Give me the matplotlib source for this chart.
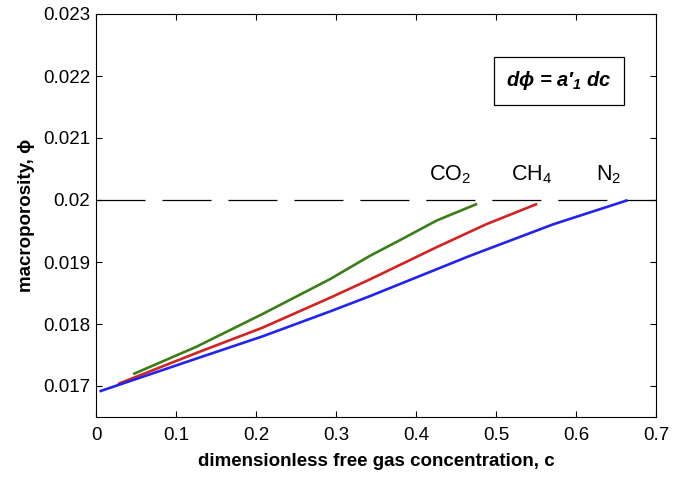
import matplotlib
matplotlib.use("Agg")
import matplotlib.pyplot as plt

plt.rcParams["font.family"] = ["Liberation Sans", "DejaVu Sans"]
plt.rcParams["lines.scale_dashes"] = False

# values
c_co2 = [0.048, 0.125, 0.208, 0.292, 0.3425, 0.384, 0.426, 0.475]
phi_co2 = [0.01720, 0.01763, 0.01816, 0.01872, 0.01910, 0.01938, 0.01967, 0.01993]
c_ch4 = [0.029, 0.125, 0.208, 0.292, 0.3425, 0.426, 0.488, 0.55]
phi_ch4 = [0.01704, 0.01753, 0.01794, 0.01842, 0.01872, 0.01924, 0.01961, 0.01993]
c_n2 = [0.006, 0.125, 0.208, 0.292, 0.3425, 0.4675, 0.572, 0.663]
phi_n2 = [0.01692, 0.01744, 0.01780, 0.01820, 0.01845, 0.01910, 0.01961, 0.01999]
phi_max = 0.02

x_ticks = [0, 0.1, 0.2, 0.3, 0.4, 0.5, 0.6, 0.7]
x_tick_labels = ["0", "0.1", "0.2", "0.3", "0.4", "0.5", "0.6", "0.7"]
y_ticks = [0.017, 0.018, 0.019, 0.020, 0.021, 0.022, 0.023]
y_tick_labels = ["0.017", "0.018", "0.019", "0.02", "0.021", "0.022", "0.023"]

fig = plt.figure(figsize=(6.88, 4.79), dpi=100)
ax = fig.add_axes([96 / 688, 62 / 479, 560 / 688, 403 / 479])

ax.axhline(phi_max, color="black", lw=0.9, dashes=(35.3, 12.2))
ax.plot(c_co2, phi_co2, color="#3b7d17", lw=1.9)
ax.plot(c_ch4, phi_ch4, color="#d42222", lw=1.9)
ax.plot(c_n2, phi_n2, color="#2323ee", lw=1.9)

ax.set_xlim(0, 0.7)
ax.set_ylim(0.0165, 0.023)
ax.set_xticks(x_ticks)
ax.set_xticklabels(x_tick_labels)
ax.set_yticks(y_ticks)
ax.set_yticklabels(y_tick_labels)
ax.tick_params(direction="in", length=4, width=0.8, top=True, right=True,
               labelsize=13.5)
ax.tick_params(axis="x", pad=7)
ax.tick_params(axis="y", pad=4)
for spine in ax.spines.values():
    spine.set_linewidth(0.8)

ax.set_xlabel("dimensionless free gas concentration, c", fontsize=13.5,
              fontweight="bold", labelpad=7)
ax.set_ylabel("macroporosity, \u03d5", fontsize=13.5, fontweight="bold",
              labelpad=6)

gas_labels = ["CO$_\\mathregular{2}$", "CH$_\\mathregular{4}$", "N$_\\mathregular{2}$"]
label_x = [0.4425, 0.545, 0.641]
for x, lab in zip(label_x, gas_labels):
    ax.text(x, 0.02032, lab, fontsize=15.5, ha="center", va="baseline")

ax.text(0.579, 0.02192, "d\u03d5 = a\u2032$_\\mathregular{1}$ dc", fontsize=14.5,
        fontweight="bold", style="italic", ha="center", va="center",
        bbox=dict(boxstyle="square,pad=0.6", fc="white", ec="black", lw=0.9))

fig.savefig("out.png", dpi=100)
